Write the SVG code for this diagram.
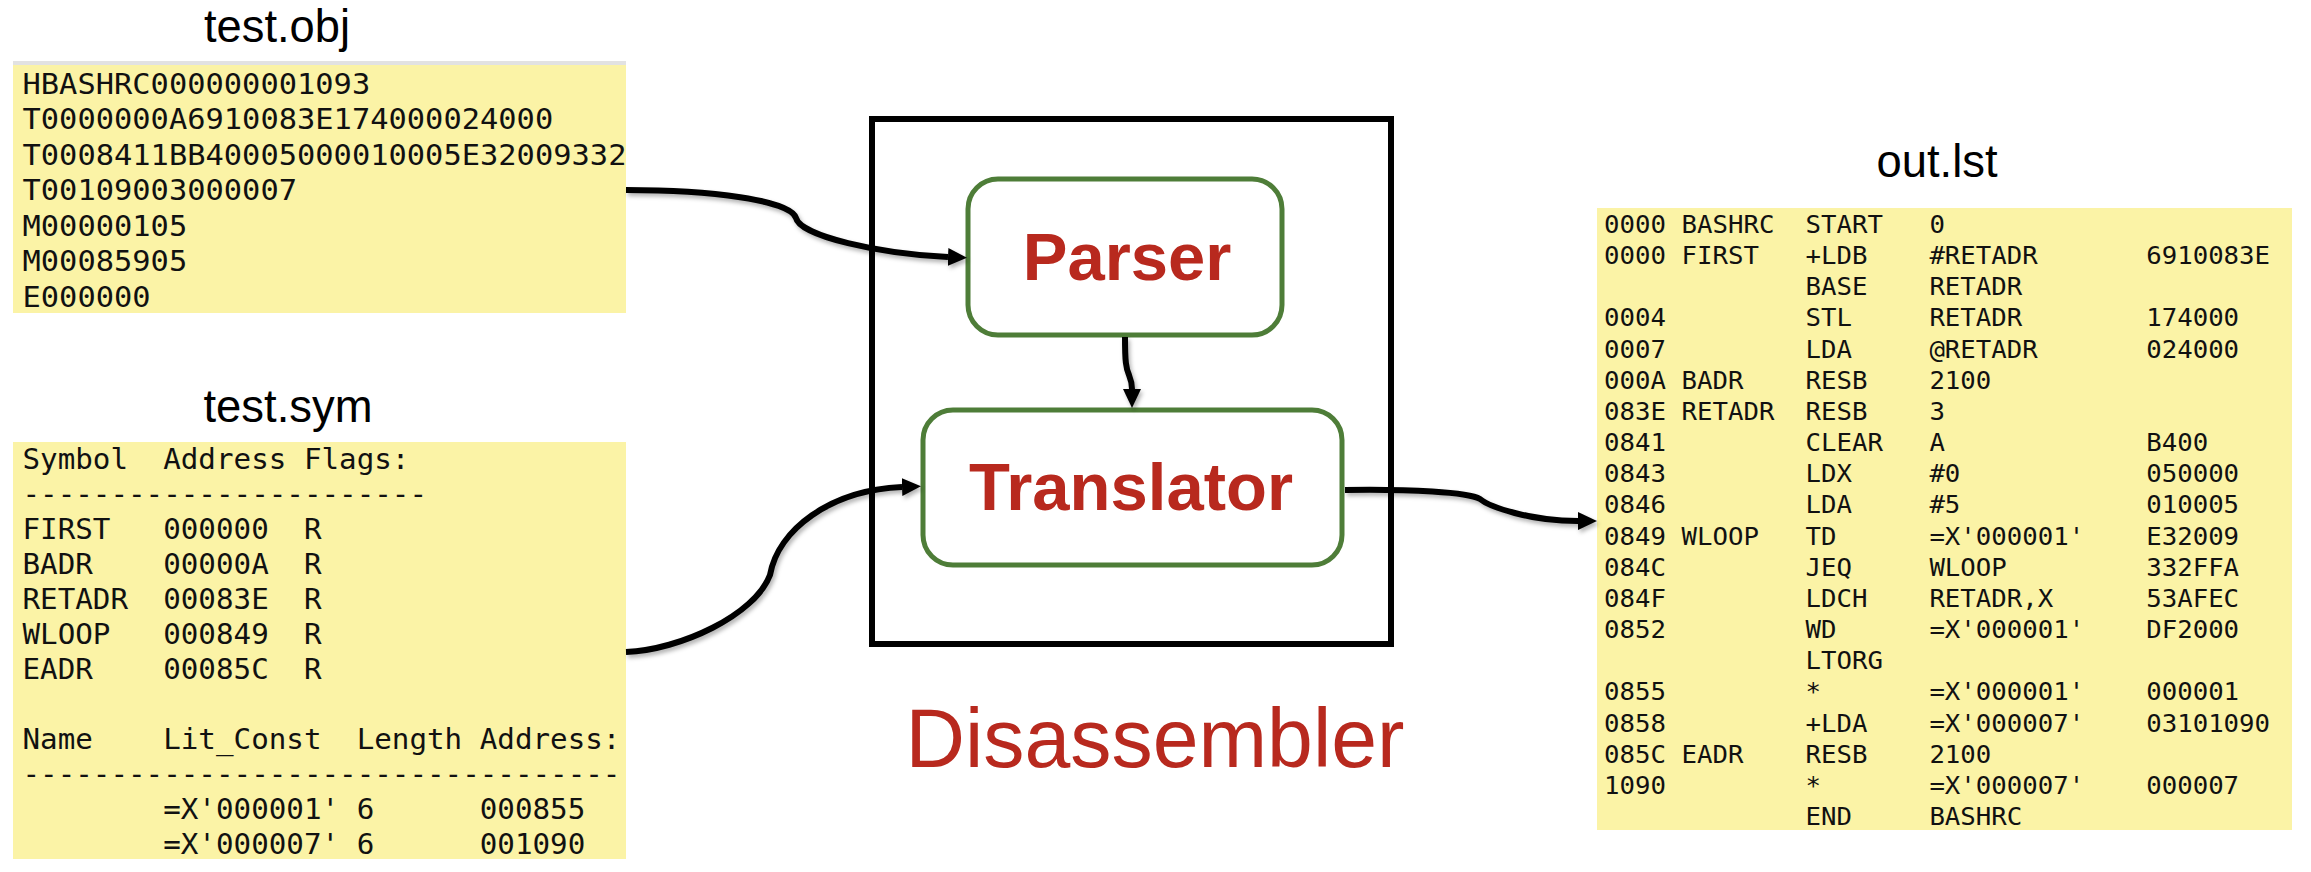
<svg xmlns="http://www.w3.org/2000/svg" width="2311" height="872" viewBox="0 0 2311 872">
<style>
.title{font-family:"Liberation Sans",Arial,sans-serif;font-size:46px;fill:#000;text-anchor:middle}
.paper{fill:#FBF3A6}
.mono{font-family:"DejaVu Sans Mono","Liberation Mono",monospace;fill:#111;white-space:pre}
.stage{fill:#fff;stroke:#4E7D38;stroke-width:5}
.stagelbl{font-family:"Liberation Sans",Arial,sans-serif;font-weight:bold;font-size:67px;fill:#B8291E;text-anchor:middle}
.conn{fill:none;stroke:#000;stroke-width:6;marker-end:url(#ah)}
</style>
<defs>
<marker id="ah" markerUnits="userSpaceOnUse" markerWidth="20" markerHeight="20" viewBox="0 0 20 20" refX="0" refY="9" orient="auto">
<path d="M0,0 L19,9 L0,18 z" fill="#000"/>
</marker>
<filter id="sh" x="-10%" y="-20%" width="130%" height="150%">
<feDropShadow dx="2" dy="3" stdDeviation="2" flood-color="#000" flood-opacity="0.3"/>
</filter>
</defs>
<rect width="2311" height="872" fill="#fff"/>

<g id="test-obj">
<text class="title" x="277" y="42" textLength="146" lengthAdjust="spacingAndGlyphs">test.obj</text>
<rect x="13" y="61" width="613" height="4" fill="#e2e2e2"/>
<rect class="paper" x="13" y="65" width="613" height="248"/>
<g transform="translate(22.5,0) scale(1.086,1)">
<text class="mono" font-size="28" xml:space="preserve"><tspan x="0" y="94">HBASHRC000000001093</tspan><tspan x="0" y="129.5">T0000000A6910083E174000024000</tspan><tspan x="0" y="165">T0008411BB40005000010005E32009332</tspan><tspan x="0" y="200.5">T00109003000007</tspan><tspan x="0" y="236">M00000105</tspan><tspan x="0" y="271.5">M00085905</tspan><tspan x="0" y="307">E000000</tspan></text>
</g>
</g>

<g id="test-sym">
<text class="title" x="288" y="422" textLength="169" lengthAdjust="spacingAndGlyphs">test.sym</text>
<rect class="paper" x="13" y="442" width="613" height="417"/>
<g transform="translate(22.5,0) scale(1.063,1)">
<text class="mono" font-size="27.5" xml:space="preserve"><tspan x="0" y="469">Symbol  Address Flags:</tspan><tspan x="0" y="504">-----------------------</tspan><tspan x="0" y="539">FIRST   000000  R</tspan><tspan x="0" y="574">BADR    00000A  R</tspan><tspan x="0" y="609">RETADR  00083E  R</tspan><tspan x="0" y="644">WLOOP   000849  R</tspan><tspan x="0" y="679">EADR    00085C  R</tspan><tspan x="0" y="749">Name    Lit_Const  Length Address:</tspan><tspan x="0" y="784">----------------------------------</tspan><tspan x="0" y="819">        =X'000001' 6      000855</tspan><tspan x="0" y="854">        =X'000007' 6      001090</tspan></text>
</g>
</g>

<g id="out-lst">
<text class="title" x="1937" y="177" textLength="121" lengthAdjust="spacingAndGlyphs">out.lst</text>
<rect class="paper" x="1597" y="208" width="695" height="622"/>
<g transform="translate(1604,0) scale(1.05,1)" class="mono" font-size="24.5">
<text y="233"><tspan x="0">0000</tspan><tspan x="73.8">BASHRC</tspan><tspan x="191.9">START</tspan><tspan x="309.9">0</tspan></text>
<text y="264.2"><tspan x="0">0000</tspan><tspan x="73.8">FIRST</tspan><tspan x="191.9">+LDB</tspan><tspan x="309.9">#RETADR</tspan><tspan x="516.4">6910083E</tspan></text>
<text y="295.3"><tspan x="191.9">BASE</tspan><tspan x="309.9">RETADR</tspan></text>
<text y="326.5"><tspan x="0">0004</tspan><tspan x="191.9">STL</tspan><tspan x="309.9">RETADR</tspan><tspan x="516.4">174000</tspan></text>
<text y="357.6"><tspan x="0">0007</tspan><tspan x="191.9">LDA</tspan><tspan x="309.9">@RETADR</tspan><tspan x="516.4">024000</tspan></text>
<text y="388.8"><tspan x="0">000A</tspan><tspan x="73.8">BADR</tspan><tspan x="191.9">RESB</tspan><tspan x="309.9">2100</tspan></text>
<text y="420"><tspan x="0">083E</tspan><tspan x="73.8">RETADR</tspan><tspan x="191.9">RESB</tspan><tspan x="309.9">3</tspan></text>
<text y="451.1"><tspan x="0">0841</tspan><tspan x="191.9">CLEAR</tspan><tspan x="309.9">A</tspan><tspan x="516.4">B400</tspan></text>
<text y="482.3"><tspan x="0">0843</tspan><tspan x="191.9">LDX</tspan><tspan x="309.9">#0</tspan><tspan x="516.4">050000</tspan></text>
<text y="513.4"><tspan x="0">0846</tspan><tspan x="191.9">LDA</tspan><tspan x="309.9">#5</tspan><tspan x="516.4">010005</tspan></text>
<text y="544.6"><tspan x="0">0849</tspan><tspan x="73.8">WLOOP</tspan><tspan x="191.9">TD</tspan><tspan x="309.9">=X'000001'</tspan><tspan x="516.4">E32009</tspan></text>
<text y="575.8"><tspan x="0">084C</tspan><tspan x="191.9">JEQ</tspan><tspan x="309.9">WLOOP</tspan><tspan x="516.4">332FFA</tspan></text>
<text y="606.9"><tspan x="0">084F</tspan><tspan x="191.9">LDCH</tspan><tspan x="309.9">RETADR,X</tspan><tspan x="516.4">53AFEC</tspan></text>
<text y="638.1"><tspan x="0">0852</tspan><tspan x="191.9">WD</tspan><tspan x="309.9">=X'000001'</tspan><tspan x="516.4">DF2000</tspan></text>
<text y="669.2"><tspan x="191.9">LTORG</tspan></text>
<text y="700.4"><tspan x="0">0855</tspan><tspan x="191.9">*</tspan><tspan x="309.9">=X'000001'</tspan><tspan x="516.4">000001</tspan></text>
<text y="731.6"><tspan x="0">0858</tspan><tspan x="191.9">+LDA</tspan><tspan x="309.9">=X'000007'</tspan><tspan x="516.4">03101090</tspan></text>
<text y="762.7"><tspan x="0">085C</tspan><tspan x="73.8">EADR</tspan><tspan x="191.9">RESB</tspan><tspan x="309.9">2100</tspan></text>
<text y="793.9"><tspan x="0">1090</tspan><tspan x="191.9">*</tspan><tspan x="309.9">=X'000007'</tspan><tspan x="516.4">000007</tspan></text>
<text y="825"><tspan x="191.9">END</tspan><tspan x="309.9">BASHRC</tspan></text>
</g>
</g>

<g id="disassembler">
<rect x="872" y="119" width="519" height="525" fill="none" stroke="#000" stroke-width="6"/>
<text x="1155" y="767" font-family="'Liberation Sans',Arial,sans-serif" font-size="84" fill="#B8291E" text-anchor="middle" textLength="499" lengthAdjust="spacingAndGlyphs">Disassembler</text>
</g>

<g id="parser">
<rect class="stage" x="968" y="179" width="314" height="156" rx="30" ry="30"/>
<text class="stagelbl" x="1127" y="280">Parser</text>
</g>

<g id="translator">
<rect class="stage" x="923" y="410" width="419" height="155" rx="30" ry="30"/>
<text class="stagelbl" x="1131" y="510">Translator</text>
</g>

<g id="connectors" filter="url(#sh)">
<path class="conn" d="M626,190 C710,190 790,200 796,218 C800,236 880,254 948,257"/>
<path class="conn" d="M626,652 C680,650 755,615 770,575 C778,530 830,490 902,487"/>
<path class="conn" d="M1125,337 C1125,362 1126,368 1129,375 C1131,380 1132,384 1132,389"/>
<path class="conn" d="M1345,490 C1410,489 1468,492 1480,499 C1490,507 1530,521 1578,521"/>
</g>
</svg>
